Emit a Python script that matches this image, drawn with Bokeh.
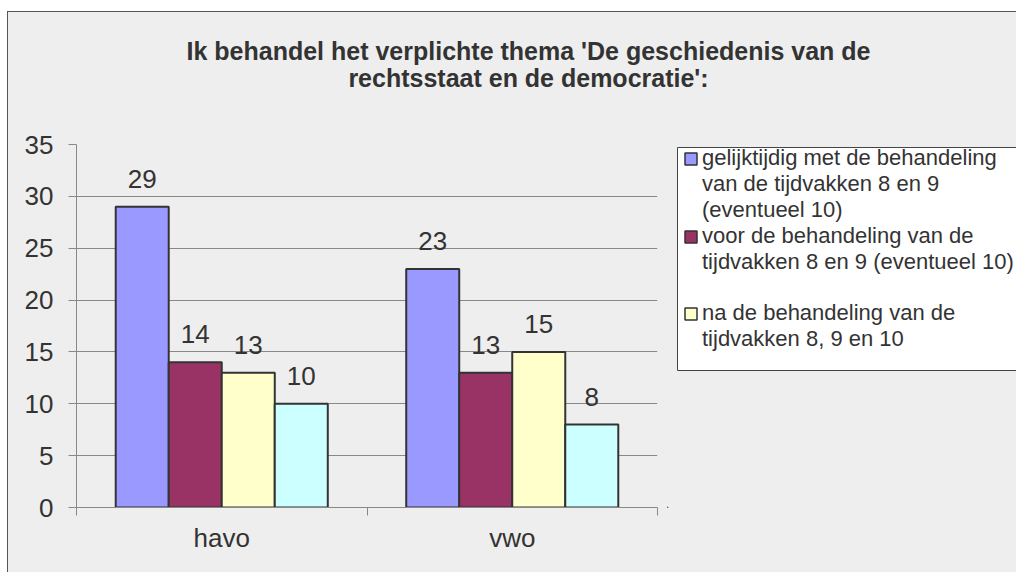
from bokeh.plotting import figure
from bokeh.models import (Range1d, FixedTicker, Legend, LegendItem,
                          ColumnDataSource, Spacer)
from bokeh.layouts import column, row
from bokeh.core.properties import value
from bokeh.embed import file_html
from bokeh.resources import INLINE

# ---------------- data ----------------
categories = ["havo", "vwo"]
gelijktijdig = [29, 23]
voor = [14, 13]
na = [13, 15]
vierde = [10, 8]
series_values = [gelijktijdig, voor, na, vierde]
colors = ["#9999FF", "#993366", "#FFFFCC", "#CCFFFF"]
y_ticks = [0, 5, 10, 15, 20, 25, 30, 35]
title_lines = ["Ik behandel het verplichte thema 'De geschiedenis van de",
               "rechtsstaat en de democratie':"]
# legend rows: (text, series index or None for continuation lines)
legend_rows = [
    ("gelijktijdig met de behandeling", 0),
    ("van de tijdvakken 8 en 9", None),
    ("(eventueel 10)", None),
    ("voor de behandeling van de", 1),
    ("tijdvakken 8 en 9 (eventueel 10)", None),
    (" ", None),
    ("na de behandeling van de", 2),
    ("tijdvakken 8, 9 en 10", None),
    (" ", None),
]

FONT = "Liberation Sans"
TXT = "#333333"
BG = "#EEEEEE"
W_TOTAL, H_TITLE, H_BODY, W_CHART = 1008, 110, 450, 659
W_LEG = W_TOTAL - W_CHART
B_TOP, B_BOTTOM = 22, 65
FRAME_H = H_BODY - B_TOP - B_BOTTOM


def blank_fig(w, h, top=0, bottom=0):
    f = figure(width=w, height=h, output_backend="svg", toolbar_location=None,
               x_range=Range1d(0, w), y_range=Range1d(0, h - top - bottom),
               min_border_left=0, min_border_right=0, min_border_top=top,
               min_border_bottom=bottom, background_fill_color=BG,
               border_fill_color=BG, outline_line_color=None)
    f.axis.visible = False
    f.grid.visible = False
    return f


# ---------------- title ----------------
tf = blank_fig(W_TOTAL, H_TITLE)
tf.text(x=[520, 520], y=[61, 34], text=title_lines, text_align="center",
        text_baseline="alphabetic", y_offset=-11,
        text_font=value(FONT), text_font_size="25px", text_font_style="bold",
        text_color=TXT)

# ---------------- chart ----------------
p = figure(width=W_CHART, height=H_BODY, output_backend="svg", toolbar_location=None,
           x_range=Range1d(0, len(categories)), y_range=Range1d(0, 35),
           min_border_left=68, min_border_right=10, min_border_top=B_TOP,
           min_border_bottom=B_BOTTOM, background_fill_color=BG, border_fill_color=BG,
           outline_line_color=None)

bw = 0.1825
for i, vals in enumerate(series_values):
    xs = [j + 0.5 + (i - 1.5) * bw for j in range(len(categories))]
    src = ColumnDataSource(dict(x=xs, top=vals, label=[str(v) for v in vals]))
    p.vbar(x="x", top="top", bottom=0, width=bw, source=src,
           fill_color=colors[i], line_color="#333333", line_width=2)
    p.text(x="x", y="top", text="label", source=src, text_align="center",
           text_baseline="bottom", y_offset=-19,
           text_font=value(FONT), text_font_size="26px", text_color=TXT)

p.yaxis.ticker = FixedTicker(ticks=y_ticks)
p.ygrid.ticker = FixedTicker(ticks=y_ticks)
p.yaxis.axis_line_color = "#888888"
p.yaxis.major_tick_line_color = "#888888"
p.yaxis.major_tick_out = 8
p.yaxis.major_tick_in = 0
p.yaxis.minor_tick_line_color = None
p.yaxis.major_label_standoff = 15
p.yaxis.major_label_text_font = FONT
p.yaxis.major_label_text_font_size = "26px"
p.yaxis.major_label_text_color = TXT

centers = [j + 0.5 for j in range(len(categories))]
bounds = [j for j in range(len(categories) + 1)]
p.xaxis.ticker = FixedTicker(ticks=centers, minor_ticks=bounds)
p.xaxis.major_label_overrides = {c: n for c, n in zip(centers, categories)}
p.xaxis.major_tick_line_color = None
p.xaxis.major_tick_out = 0
p.xaxis.major_tick_in = 0
p.xaxis.minor_tick_line_color = "#888888"
p.xaxis.minor_tick_out = 8
p.xaxis.minor_tick_in = 0
p.xaxis.axis_line_color = "#888888"
p.xaxis.major_label_standoff = 7
p.xaxis.major_label_text_font = FONT
p.xaxis.major_label_text_font_size = "26px"
p.xaxis.major_label_text_color = TXT

p.xgrid.grid_line_color = None
p.ygrid.grid_line_color = "#888888"
p.ygrid.grid_line_width = 1

# ---------------- legend ----------------
lf = blank_fig(W_LEG, H_BODY, top=B_TOP, bottom=B_BOTTOM)
lf.quad(left=[10], right=[W_LEG + 20], top=[FRAME_H - 3], bottom=[FRAME_H - 226],
        fill_color="white", line_color="#444444", line_width=1)
# legend swatches: renderers whose single bar lies outside the visible range
swatches = [lf.vbar(x=[-50], top=[-50], bottom=[-60], width=1, fill_color=c,
                    line_color="#333333", line_width=1.5) for c in colors]
dummy = lf.vbar(x=[-50], top=[-50], bottom=[-60], width=1, fill_alpha=0, line_alpha=0)
items = []
for text, idx in legend_rows:
    rend = swatches[idx] if idx is not None else dummy
    items.append(LegendItem(label=text, renderers=[rend]))
legend = Legend(items=items, location=(16, 130), margin=0, padding=6, spacing=0,
                label_height=25, glyph_height=15, glyph_width=15, label_standoff=4,
                label_text_font=FONT, label_text_font_size="22px",
                label_text_line_height=1.0,
                label_text_color=TXT, background_fill_alpha=0,
                border_line_color=None)
lf.add_layout(legend, "center")

body = row(p, lf, styles={"background-color": BG})
inner = column(tf, body, styles={"background-color": BG,
                                 "border-top": "1px solid #555555",
                                 "border-left": "1px solid #555555"})
layout = column(Spacer(height=11, width=1016),
                row(Spacer(width=7, height=H_TITLE + H_BODY), inner))
open("out.html", "w").write(file_html(layout, INLINE))
